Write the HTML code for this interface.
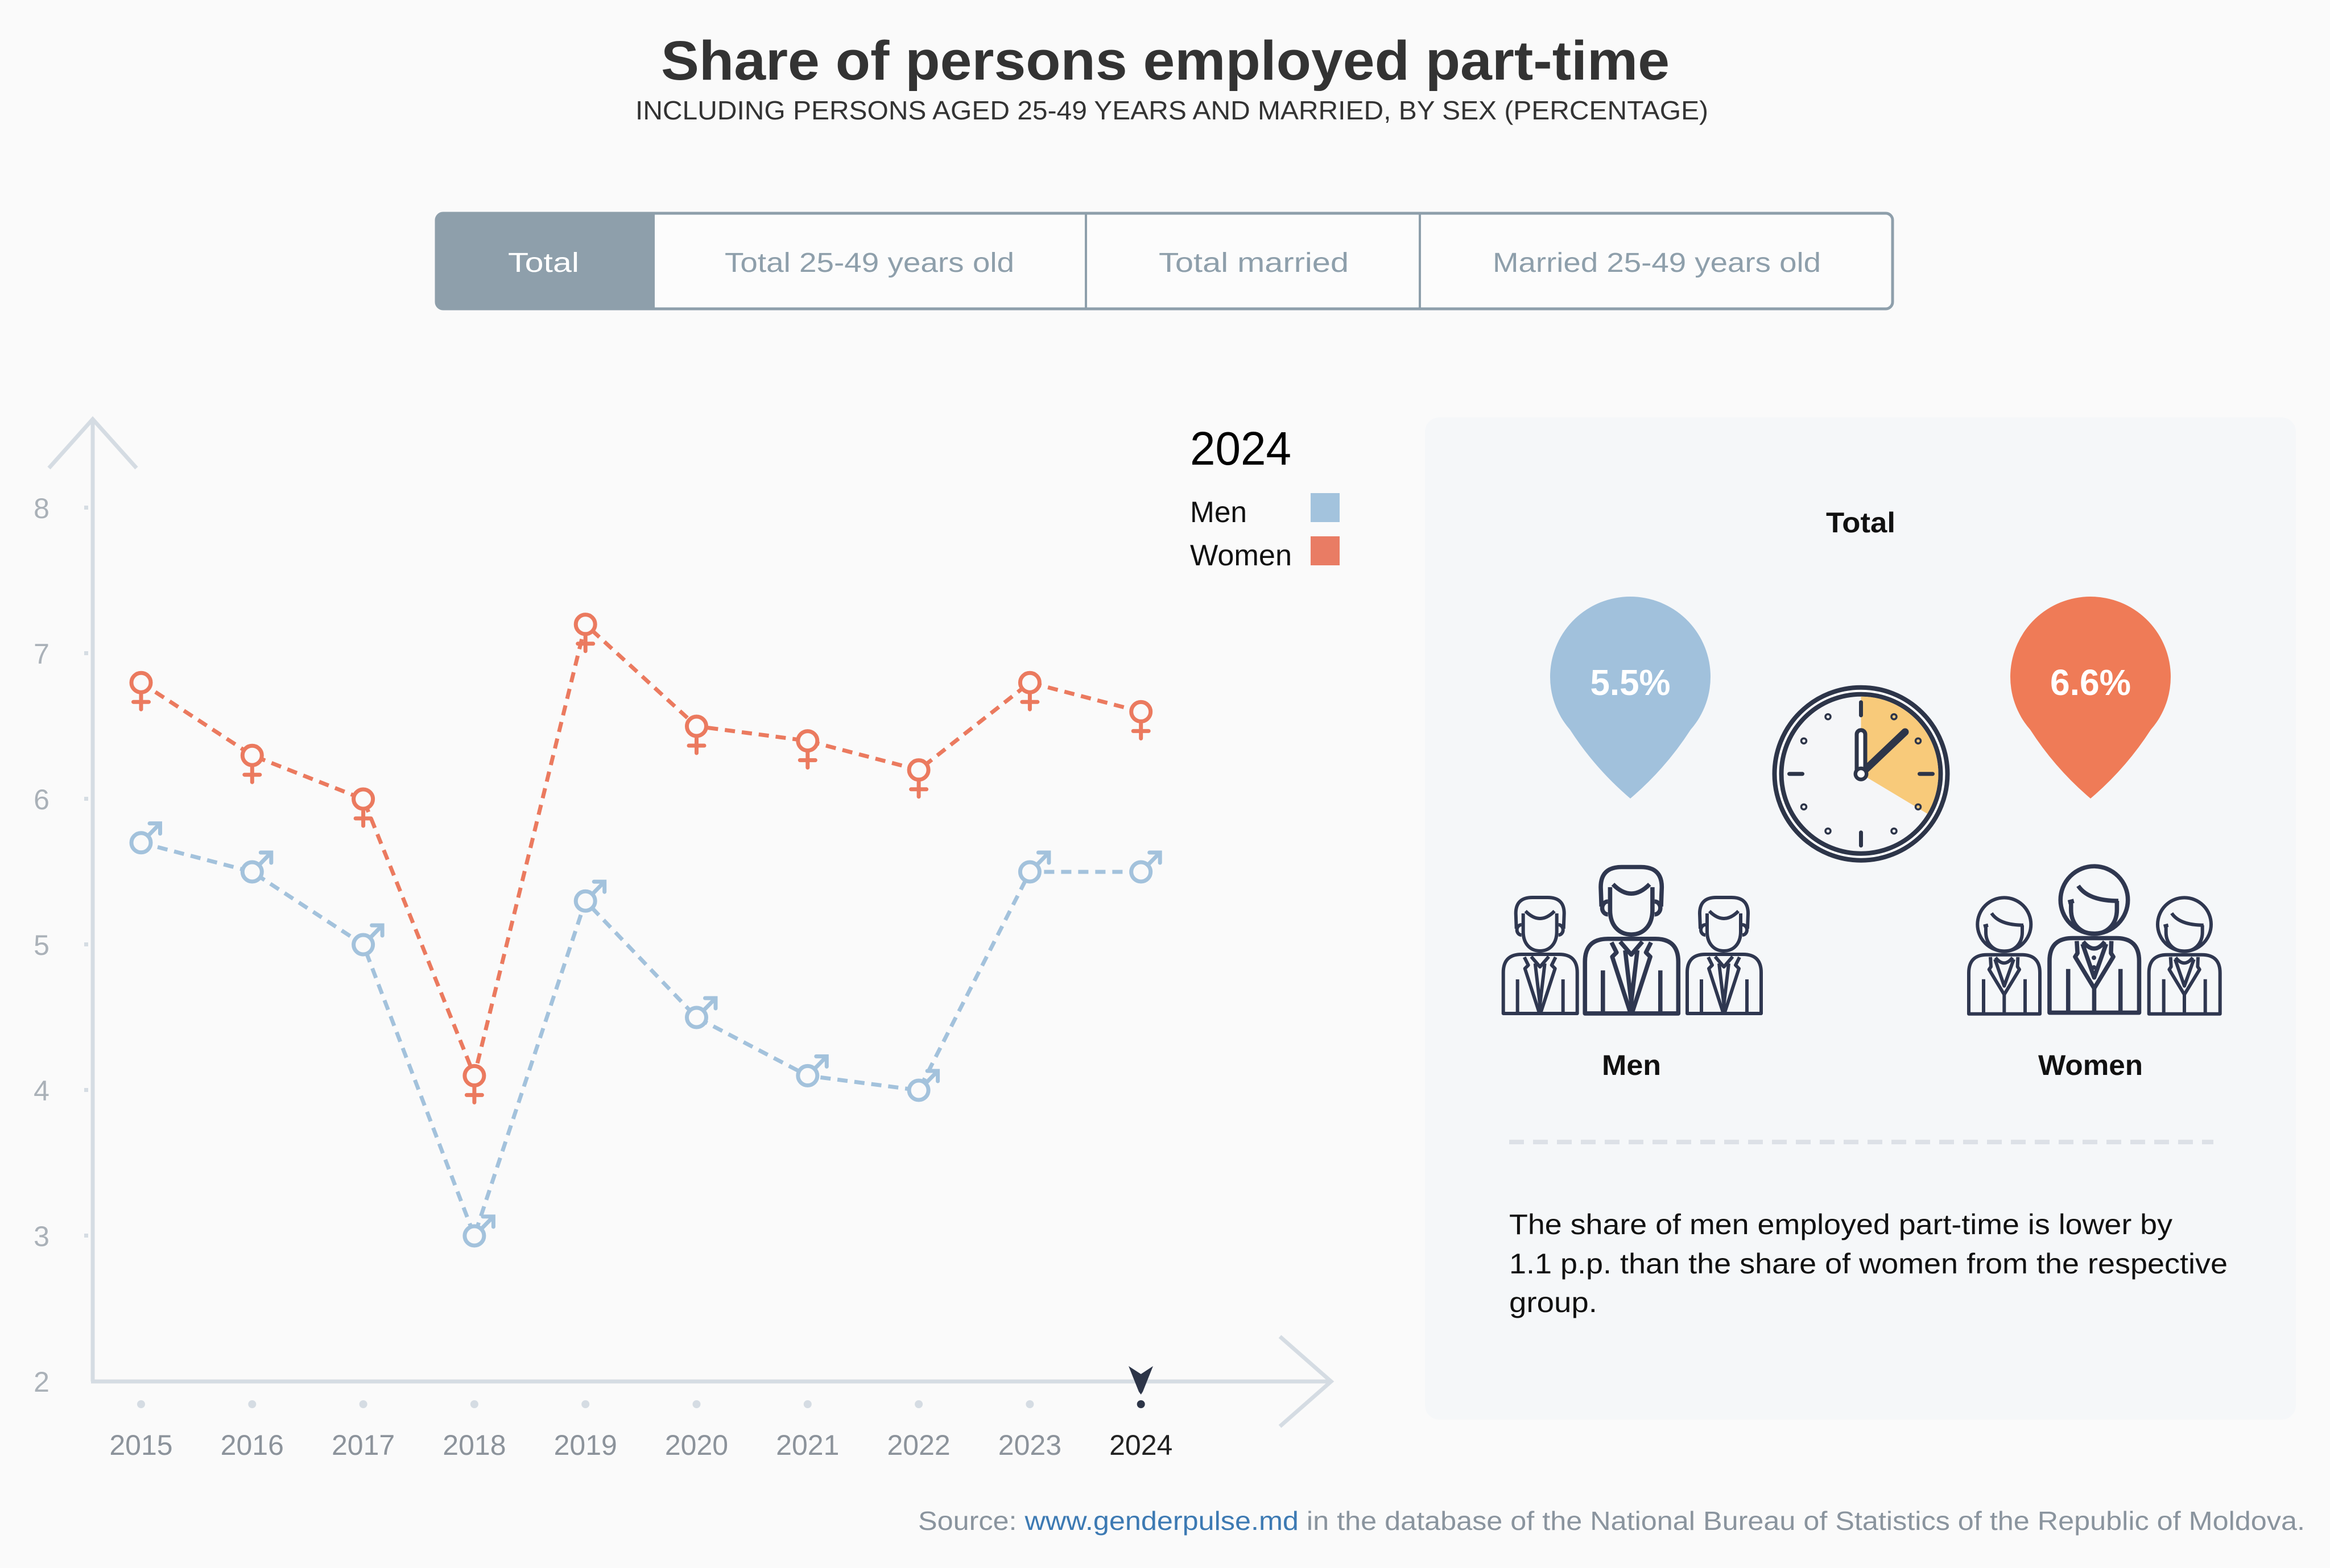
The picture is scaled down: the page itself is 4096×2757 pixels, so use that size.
<!DOCTYPE html>
<html><head><meta charset="utf-8"><style>html,body{margin:0;padding:0;background:#fafafa}svg{display:block}text{font-family:"Liberation Sans",sans-serif}</style></head><body>
<svg width="4096" height="2757" viewBox="0 0 4096 2757" xmlns="http://www.w3.org/2000/svg">
<defs>
<g id="man" fill="none" stroke="#2f3750" stroke-width="6" stroke-linejoin="round">
<path d="M1 206 L1 134 Q1 102 33 102 L99 102 Q131 102 131 134 L131 206 Z"/>
<path d="M26 146 V206 M106 146 V206"/>
<path d="M38 107 L45 121 L39 127 L64 204 M93 107 L86 121 L92 127 L67 204"/>
<path d="M50 106 L65.5 124 L81 106"/>
<path d="M57 118 L65.5 190 L74 118"/>
<path d="M65.5 190 V206"/>
<path d="M24 57 L23 30 Q23 2 52 2 L79 2 Q108 2 108 30 L107 57"/>
<path d="M36 30 L36 62 C36 84 49 96 65.5 96 C82 96 95 84 95 62 L95 30"/>
<path d="M40 26 Q65.5 52 91 26"/>
<path d="M33 50 A8 9 0 0 0 33 68 M98 50 A8 9 0 0 1 98 68"/>
</g>
<g id="woman" fill="none" stroke="#2f3750" stroke-width="6" stroke-linejoin="round">
<path d="M1 206 L1 134 Q1 102 33 102 L94 102 Q126 102 126 134 L126 206 Z"/>
<path d="M27 145 V206 M100 145 V206"/>
<path d="M48 107 Q63.3 126 78 107"/>
<path d="M39 106 L40 123 L36.7 128 L63.3 172 M87.3 106 L86.7 123 L90 128 L63.3 172"/>
<path d="M47 110 L63.3 157 L80 110"/>
<path d="M63.3 172 V206"/>
<circle cx="63.3" cy="48.7" r="47"/>
<path d="M31 52 L31 62 C31 84 46 96 63.3 96 C80 96 95 84 95 62 L95 50"/>
<path d="M41 29 Q55 50 97 50 M27 52 L35 50"/>
</g>
</defs>
<rect width="4096" height="2757" fill="#fafafa"/>

<!-- Title -->
<text x="1162" y="140" font-size="97" font-weight="bold" fill="#333" textLength="1773" lengthAdjust="spacingAndGlyphs">Share of persons employed part-time</text>
<text x="1117" y="210" font-size="46" fill="#333" textLength="1886" lengthAdjust="spacingAndGlyphs">INCLUDING PERSONS AGED 25-49 YEARS AND MARRIED, BY SEX (PERCENTAGE)</text>

<!-- Tabs -->
<rect x="767" y="375" width="2560" height="168" rx="12" fill="#fcfcfc" stroke="#8e9fab" stroke-width="5"/>
<path d="M779 375 H1151 V543 H779 Q767 543 767 531 V387 Q767 375 779 375 Z" fill="#8e9fab"/>
<line x1="1909" y1="375" x2="1909" y2="543" stroke="#8e9fab" stroke-width="4"/>
<line x1="2496" y1="375" x2="2496" y2="543" stroke="#8e9fab" stroke-width="4"/>
<text x="893" y="478" font-size="48" fill="#fff" textLength="125" lengthAdjust="spacingAndGlyphs">Total</text>
<text x="1274" y="478" font-size="48" fill="#8e9fab" textLength="509" lengthAdjust="spacingAndGlyphs">Total 25-49 years old</text>
<text x="2037" y="478" font-size="48" fill="#8e9fab" textLength="334" lengthAdjust="spacingAndGlyphs">Total married</text>
<text x="2624" y="478" font-size="48" fill="#8e9fab" textLength="577" lengthAdjust="spacingAndGlyphs">Married 25-49 years old</text>

<!-- Axes -->
<g stroke="#d5dce3" stroke-width="7" fill="none">
<line x1="163" y1="737" x2="163" y2="2429"/>
<polyline points="86,823 163,737 240,823"/>
<line x1="160" y1="2429" x2="2338" y2="2429"/>
<polyline points="2250,2350 2340,2429 2250,2508"/>
</g>
<g fill="#d5dce3">
<rect x="148" y="889" width="7" height="7"/><rect x="148" y="1145" width="7" height="7"/><rect x="148" y="1401" width="7" height="7"/><rect x="148" y="1657" width="7" height="7"/><rect x="148" y="1913" width="7" height="7"/><rect x="148" y="2169" width="7" height="7"/>
</g>
<g font-size="50" fill="#aab1b8" text-anchor="middle">
<text x="73" y="911">8</text><text x="73" y="1167">7</text><text x="73" y="1423">6</text><text x="73" y="1679">5</text><text x="73" y="1935">4</text><text x="73" y="2191">3</text><text x="73" y="2447">2</text>
</g>
<g fill="#d5dce3">
<circle cx="248" cy="2469" r="7"/><circle cx="443.3" cy="2469" r="7"/><circle cx="638.6" cy="2469" r="7"/><circle cx="833.9" cy="2469" r="7"/><circle cx="1029.2" cy="2469" r="7"/><circle cx="1224.5" cy="2469" r="7"/><circle cx="1419.8" cy="2469" r="7"/><circle cx="1615.1" cy="2469" r="7"/><circle cx="1810.4" cy="2469" r="7"/>
</g>
<circle cx="2005.7" cy="2469" r="7" fill="#2d3548"/>
<polygon points="1984,2402 2005.7,2416 2027,2402 2009,2447 2005.7,2452 2002,2447" fill="#2d3548"/>
<g font-size="50" fill="#8c939b" text-anchor="middle">
<text x="248" y="2558">2015</text><text x="443.3" y="2558">2016</text><text x="638.6" y="2558">2017</text><text x="833.9" y="2558">2018</text><text x="1029.2" y="2558">2019</text><text x="1224.5" y="2558">2020</text><text x="1419.8" y="2558">2021</text><text x="1615.1" y="2558">2022</text><text x="1810.4" y="2558">2023</text><text x="2005.7" y="2558" fill="#222">2024</text>
</g>

<!-- Lines -->
<polyline fill="none" stroke="#a3c2dc" stroke-width="7" stroke-dasharray="18 12" points="248,1481.8 443.3,1533 638.6,1661 833.9,2173 1029.2,1584.2 1224.5,1789 1419.8,1891.4 1615.1,1917 1810.4,1533 2005.7,1533"/>
<polyline fill="none" stroke="#eb7a5f" stroke-width="7" stroke-dasharray="18 12" points="248,1200.2 443.3,1328.2 638.6,1405 833.9,1891.4 1029.2,1097.8 1224.5,1277 1419.8,1302.6 1615.1,1353.8 1810.4,1200.2 2005.7,1251.4"/>

<!-- Men markers -->
<g fill="#fafafa" stroke="#a3c2dc" stroke-width="7" stroke-linecap="round">
<g transform="translate(248,1481.8)"><circle r="17"/><path fill="none" d="M12 -12 L33.5 -34 M15 -34 H33.5 V-16"/></g>
<g transform="translate(443.3,1533)"><circle r="17"/><path fill="none" d="M12 -12 L33.5 -34 M15 -34 H33.5 V-16"/></g>
<g transform="translate(638.6,1661)"><circle r="17"/><path fill="none" d="M12 -12 L33.5 -34 M15 -34 H33.5 V-16"/></g>
<g transform="translate(833.9,2173)"><circle r="17"/><path fill="none" d="M12 -12 L33.5 -34 M15 -34 H33.5 V-16"/></g>
<g transform="translate(1029.2,1584.2)"><circle r="17"/><path fill="none" d="M12 -12 L33.5 -34 M15 -34 H33.5 V-16"/></g>
<g transform="translate(1224.5,1789)"><circle r="17"/><path fill="none" d="M12 -12 L33.5 -34 M15 -34 H33.5 V-16"/></g>
<g transform="translate(1419.8,1891.4)"><circle r="17"/><path fill="none" d="M12 -12 L33.5 -34 M15 -34 H33.5 V-16"/></g>
<g transform="translate(1615.1,1917)"><circle r="17"/><path fill="none" d="M12 -12 L33.5 -34 M15 -34 H33.5 V-16"/></g>
<g transform="translate(1810.4,1533)"><circle r="17"/><path fill="none" d="M12 -12 L33.5 -34 M15 -34 H33.5 V-16"/></g>
<g transform="translate(2005.7,1533)"><circle r="17"/><path fill="none" d="M12 -12 L33.5 -34 M15 -34 H33.5 V-16"/></g>
</g>
<!-- Women markers -->
<g fill="#fafafa" stroke="#eb7a5f" stroke-width="7" stroke-linecap="round">
<g transform="translate(248,1200.2)"><circle r="17"/><path fill="none" d="M0 21 V47 M-13.5 34 H13.5"/></g>
<g transform="translate(443.3,1328.2)"><circle r="17"/><path fill="none" d="M0 21 V47 M-13.5 34 H13.5"/></g>
<g transform="translate(638.6,1405)"><circle r="17"/><path fill="none" d="M0 21 V47 M-13.5 34 H13.5"/></g>
<g transform="translate(833.9,1891.4)"><circle r="17"/><path fill="none" d="M0 21 V47 M-13.5 34 H13.5"/></g>
<g transform="translate(1029.2,1097.8)"><circle r="17"/><path fill="none" d="M0 21 V47 M-13.5 34 H13.5"/></g>
<g transform="translate(1224.5,1277)"><circle r="17"/><path fill="none" d="M0 21 V47 M-13.5 34 H13.5"/></g>
<g transform="translate(1419.8,1302.6)"><circle r="17"/><path fill="none" d="M0 21 V47 M-13.5 34 H13.5"/></g>
<g transform="translate(1615.1,1353.8)"><circle r="17"/><path fill="none" d="M0 21 V47 M-13.5 34 H13.5"/></g>
<g transform="translate(1810.4,1200.2)"><circle r="17"/><path fill="none" d="M0 21 V47 M-13.5 34 H13.5"/></g>
<g transform="translate(2005.7,1251.4)"><circle r="17"/><path fill="none" d="M0 21 V47 M-13.5 34 H13.5"/></g>
</g>

<!-- Legend -->
<text x="2092" y="817" font-size="83" fill="#000" textLength="178" lengthAdjust="spacingAndGlyphs">2024</text>
<text x="2092" y="918" font-size="52" fill="#111" textLength="100" lengthAdjust="spacingAndGlyphs">Men</text>
<text x="2092" y="994" font-size="52" fill="#111" textLength="179" lengthAdjust="spacingAndGlyphs">Women</text>
<rect x="2304" y="867" width="51" height="51" fill="#a3c3dd"/>
<rect x="2304" y="943" width="51" height="51" fill="#e97c64"/>

<!-- Panel -->
<rect x="2505" y="734" width="1531" height="1762" rx="25" fill="#f5f7f9"/>
<text x="3271" y="936" font-size="50" font-weight="bold" fill="#111" text-anchor="middle" textLength="122" lengthAdjust="spacingAndGlyphs">Total</text>

<path d="M2866 1404 Q2804 1351.4 2760 1283 A141 141 0 1 1 2972 1283 Q2928 1351.4 2866 1404 Z" fill="#a1c1dc"/>
<path d="M3675 1404 Q3613 1351.4 3569 1283 A141 141 0 1 1 3781 1283 Q3737 1351.4 3675 1404 Z" fill="#ef7b57"/>
<text x="2866" y="1222" font-size="64" font-weight="bold" fill="#fff" text-anchor="middle" textLength="141" lengthAdjust="spacingAndGlyphs">5.5%</text>
<text x="3675" y="1222" font-size="64" font-weight="bold" fill="#fff" text-anchor="middle" textLength="142" lengthAdjust="spacingAndGlyphs">6.6%</text>

<!-- Clock -->
<g transform="translate(3271.5,1360.7)">
<circle r="152" fill="#fff" stroke="#2d3549" stroke-width="8"/>
<circle r="140" fill="#f5f6f8" stroke="#2d3549" stroke-width="8"/>
<path d="M0 0 L0 -136 A136 136 0 0 1 116.6 70 Z" fill="#f8ca7a"/>
<g stroke="#2d3549" stroke-width="7" stroke-linecap="round">
<line x1="0" y1="-103" x2="0" y2="-126"/>
<line x1="103" y1="0" x2="126" y2="0"/>
<line x1="0" y1="103" x2="0" y2="126"/>
<line x1="-103" y1="0" x2="-126" y2="0"/>
</g>
<g fill="none" stroke="#2d3549" stroke-width="3.5">
<circle cx="58" cy="-100.5" r="4.5"/><circle cx="100.5" cy="-58" r="4.5"/><circle cx="100.5" cy="58" r="4.5"/><circle cx="58" cy="100.5" r="4.5"/>
<circle cx="-58" cy="100.5" r="4.5"/><circle cx="-100.5" cy="58" r="4.5"/><circle cx="-100.5" cy="-58" r="4.5"/><circle cx="-58" cy="-100.5" r="4.5"/>
</g>
<line x1="0" y1="0" x2="77.5" y2="-73.7" stroke="#2d3549" stroke-width="13" stroke-linecap="round"/>
<rect x="-7.5" y="-77" width="15" height="80" rx="7.5" fill="#fff" stroke="#2d3549" stroke-width="7"/>
<circle r="13" fill="#2d3549"/>
<circle r="6.5" fill="#fff"/>
</g>

<!-- People -->
<use href="#man" transform="translate(2641.7,1576)"/>
<use href="#man" transform="translate(2965,1576)"/>
<use href="#man" transform="translate(2785,1522) scale(1.262)"/>
<use href="#woman" transform="translate(3460,1576.7)"/>
<use href="#woman" transform="translate(3776.7,1576.7)"/>
<use href="#woman" transform="translate(3601.7,1521) scale(1.26)"/>
<circle cx="3681" cy="1684" r="4" fill="#2f3750"/>
<circle cx="3681" cy="1701" r="4" fill="#2f3750"/>

<text x="2868" y="1890" font-size="50" font-weight="bold" fill="#111" text-anchor="middle" textLength="104" lengthAdjust="spacingAndGlyphs">Men</text>
<text x="3675" y="1890" font-size="50" font-weight="bold" fill="#111" text-anchor="middle" textLength="184" lengthAdjust="spacingAndGlyphs">Women</text>

<line x1="2653" y1="2008" x2="3891" y2="2008" stroke="#dde1e7" stroke-width="8" stroke-dasharray="26 16"/>

<g font-size="50" fill="#111">
<text x="2653" y="2170" textLength="1166" lengthAdjust="spacingAndGlyphs">The share of men employed part-time is lower by</text>
<text x="2653" y="2239" textLength="1263" lengthAdjust="spacingAndGlyphs">1.1 p.p. than the share of women from the respective</text>
<text x="2653" y="2307" textLength="155" lengthAdjust="spacingAndGlyphs">group.</text>
</g>

<!-- Source -->
<text x="1614" y="2690" font-size="46" fill="#8a949e" textLength="2438" lengthAdjust="spacingAndGlyphs">Source: <tspan fill="#3d7ab3">www.genderpulse.md</tspan> in the database of the National Bureau of Statistics of the Republic of Moldova.</text>
</svg>
</body></html>
